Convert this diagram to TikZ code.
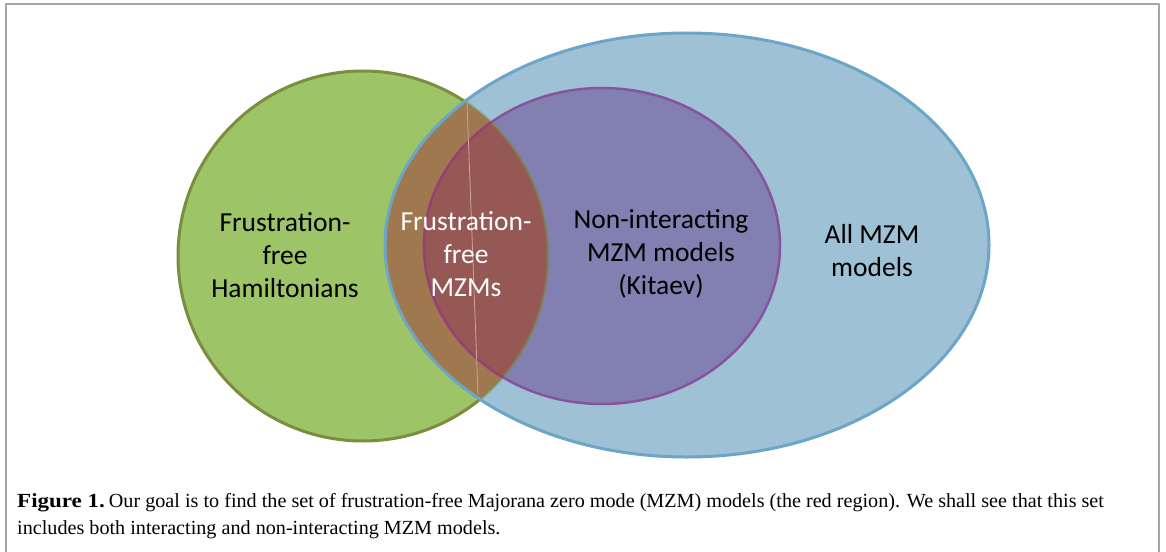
\documentclass[tikz,border=0pt]{standalone}
\usepackage{fontspec}
\usepackage{graphicx}
\setmainfont{Liberation Serif}
\newfontfamily\calibri{Carlito}
\definecolor{greenfill}{RGB}{158,196,104}
\definecolor{greenline}{RGB}{122,142,62}
\definecolor{bluefill}{RGB}{158,193,213}
\definecolor{blueline}{RGB}{107,165,199}
\definecolor{purplefill}{RGB}{130,128,176}
\definecolor{purpleline}{RGB}{134,84,158}
\definecolor{brownfill}{RGB}{160,120,80}
\definecolor{redfill}{RGB}{150,88,84}
\definecolor{redline}{RGB}{150,66,108}
\definecolor{framec}{RGB}{165,165,165}
\definecolor{streak}{RGB}{205,165,150}
\def\GreenC{(363,256) circle [radius=185]}
\def\BlueE{(687,245) ellipse [x radius=302, y radius=212]}
\def\PurpE{(602,246) ellipse [x radius=178, y radius=158]}
\newlength\capbodyw
\newcommand\capfnt{\fontsize{20}{27}\selectfont}
\newcommand\caplineA{Our goal is to find the set of frustration-free Majorana zero mode (MZM) models (the red region). We shall see that this set}
\newcommand\caplineB{includes both interacting and non-interacting MZM models.}
\begin{document}
\settowidth\capbodyw{\capfnt\caplineA}%
\begin{tikzpicture}[x=1pt,y=-1pt,line join=round,
  lbl/.style={font=\calibri\fontsize{27.5}{33}\selectfont,align=center,inner sep=0pt},
  capstyle/.style={anchor=base west,inner sep=0pt,font=\capfnt},
  rim/.style={line width=3pt}]
\pgfmathsetmacro\capsx{995/\capbodyw}
\useasboundingbox (0,0) rectangle (1166,551);
\fill[white] (0,0) rectangle (1166,551);
% frame
\draw[framec,line width=1.5pt] (6,553) -- (6,4) -- (1159,4) -- (1159,553);
% sets
\fill[greenfill] \GreenC;
\draw[greenline,rim] \GreenC;
\fill[bluefill] \BlueE;
\begin{scope}
  \clip \GreenC;
  \fill[brownfill] \BlueE;
\end{scope}
\fill[purplefill] \PurpE;
\begin{scope}
  \clip \GreenC;
  \fill[redfill] \PurpE;
\end{scope}
\begin{scope}
  \clip \BlueE;
  \draw[greenline,rim,opacity=0.45] \GreenC;
\end{scope}
\draw[purpleline,line width=2.5pt] \PurpE;
\begin{scope}
  \clip \GreenC;
  \draw[redline,line width=2.5pt] \PurpE;
\end{scope}
\draw[blueline,rim] \BlueE;
\draw[streak,line width=0.8pt] (467,103) -- (478,395);
% labels
\node[lbl,text=black] (ffh) at (285,255) {Frustration-\\free\\Hamiltonians};
\node[lbl,text=white] (ffm) at (466,254) {Frustration-\\free\\MZMs};
\node[lbl,text=black] (nim) at (661,254) {Non-interacting\\MZM models\\(Kitaev)};
\node[lbl,text=black] (all) at (872,251) {All MZM\\models};
% caption
\node[capstyle] (cap1) at (17,507)
  {\scalebox{1.15}[1]{\textbf{Figure 1.}}\hspace{4pt}\scalebox{\capsx}[1]{\caplineA}};
\node[capstyle] (cap2) at (17,534)
  {\scalebox{\capsx}[1]{\caplineB}};
\end{tikzpicture}
\end{document}
